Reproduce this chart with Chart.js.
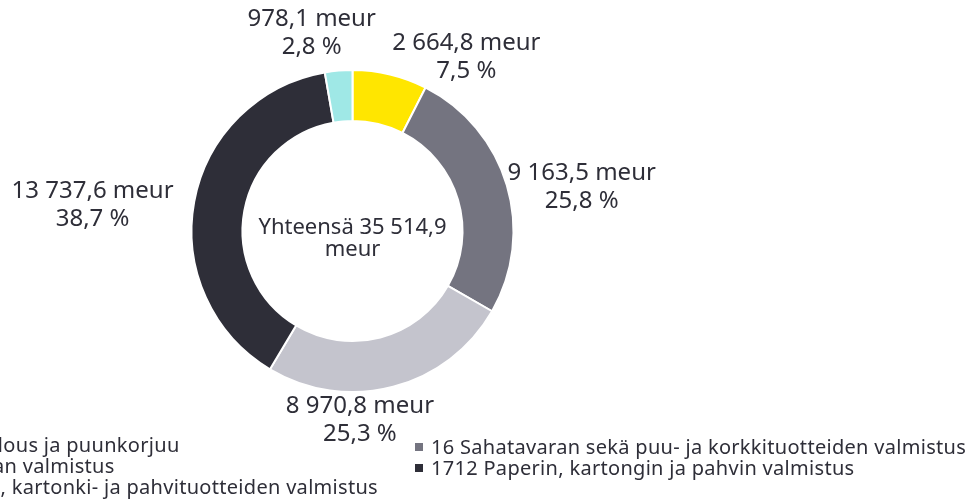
<!DOCTYPE html>
<html>
<head>
<meta charset="utf-8">
<script src="https://cdn.jsdelivr.net/npm/chart.js@4.4.1/dist/chart.umd.min.js"></script>
<style>
  html, body { margin: 0; padding: 0; background: #fff; overflow: hidden; }
  #wrap { position: relative; width: 967px; height: 503px; overflow: hidden; }
  #chart { position: absolute; left: 0; top: 0; }
  .legend { position: absolute; font-family: "Noto Sans"; font-size: 20px; letter-spacing: 0.3px; color: #2E2E38; line-height: 21px; white-space: nowrap; }
  .legend .item { display: flex; align-items: center; }
  .legend .box { width: 8px; height: 8px; margin-right: 8px; flex: none; }
  #legend-left { right: 589px; top: 434px; }
  #legend-right { left: 415px; top: 436px; }
</style>
</head>
<body>
<div id="wrap">
  <canvas id="chart" width="967" height="503"></canvas>
  <div class="legend" id="legend-left"></div>
  <div class="legend" id="legend-right"></div>
</div>
<script>
const categories = [
  "02 Metsätalous ja puunkorjuu",
  "16 Sahatavaran sekä puu- ja korkkituotteiden valmistus",
  "1711 Massan valmistus",
  "1712 Paperin, kartongin ja pahvin valmistus",
  "172 Paperi-, kartonki- ja pahvituotteiden valmistus"
];
const values = [2664.8, 9163.5, 8970.8, 13737.6, 978.1];
const shares = [7.5, 25.8, 25.3, 38.7, 2.8];
const totalLines = ["Yhteensä 35 514,9", "meur"];
const colors = ["#FFE600", "#747480", "#C4C4CD", "#2E2E38", "#9FE8E6"];

function fmt(v) {
  return v.toFixed(1).replace(".", ",").replace(/\B(?=(\d{3})+(?!\d))/g, " ");
}

// labels outside the ring, pushed out along the slice's middle angle
const sliceLabels = {
  id: "sliceLabels",
  afterDatasetsDraw(chart, args, opts) {
    const ctx = chart.ctx;
    const meta = chart.getDatasetMeta(0);
    ctx.save();
    ctx.fillStyle = opts.color;
    ctx.textAlign = "center";
    ctx.textBaseline = "middle";
    ctx.font = opts.font;
    let cx0 = 0, cy0 = 0;
    meta.data.forEach((arc, i) => {
      const p = arc.getProps(["x", "y", "startAngle", "endAngle", "outerRadius"], true);
      cx0 = p.x; cy0 = p.y;
      const mid = (p.startAngle + p.endAngle) / 2;
      const ux = Math.cos(mid), uy = Math.sin(mid);
      const lines = [fmt(values[i]) + " meur", shares[i].toFixed(1).replace(".", ",") + " %"];
      const w = Math.max(...lines.map(l => ctx.measureText(l).width));
      const h = lines.length * opts.lineHeight;
      const r = p.outerRadius + opts.gap;
      const n = opts.nudge[i] || [0, 0];
      const cx = p.x + r * ux + ux * w / 2 + n[0];
      const cy = p.y + r * uy + uy * h / 2 + n[1];
      lines.forEach((l, k) => ctx.fillText(l, cx, cy + (k - (lines.length - 1) / 2) * opts.lineHeight));
    });
    ctx.font = opts.centerFont;
    totalLines.forEach((l, k) => ctx.fillText(l, cx0, cy0 + opts.centerShift + (k - (totalLines.length - 1) / 2) * opts.centerLineHeight));
    ctx.restore();
  }
};

const chart = new Chart(document.getElementById("chart"), {
  type: "doughnut",
  data: {
    labels: categories,
    datasets: [{
      data: values,
      backgroundColor: colors,
      borderColor: "#ffffff",
      borderWidth: 2,
      hoverOffset: 0
    }]
  },
  options: {
    responsive: false,
    animation: false,
    radius: 161,
    cutout: 109,
    layout: { padding: { left: 192, right: 454, top: 70, bottom: 111 } },
    plugins: {
      legend: { display: false },
      tooltip: { enabled: false },
      sliceLabels: {
        color: "#2E2E38",
        font: '24px "Noto Sans"',
        lineHeight: 28,
        gap: 4,
        nudge: [[58, 14], [0, 11], [-53, 2], [-18, 9], [-21, -6]],
        centerFont: '22px "Noto Sans"',
        centerLineHeight: 22,
        centerShift: 8
      }
    }
  },
  plugins: [sliceLabels]
});

// two column legend: row by row, left then right
const left = document.getElementById("legend-left");
const right = document.getElementById("legend-right");
categories.forEach((c, i) => {
  const item = document.createElement("div");
  item.className = "item";
  item.innerHTML = `<span class="box" style="background:${colors[i]}"></span><span>${c}</span>`;
  (i % 2 === 0 ? left : right).appendChild(item);
});
</script>
</body>
</html>
